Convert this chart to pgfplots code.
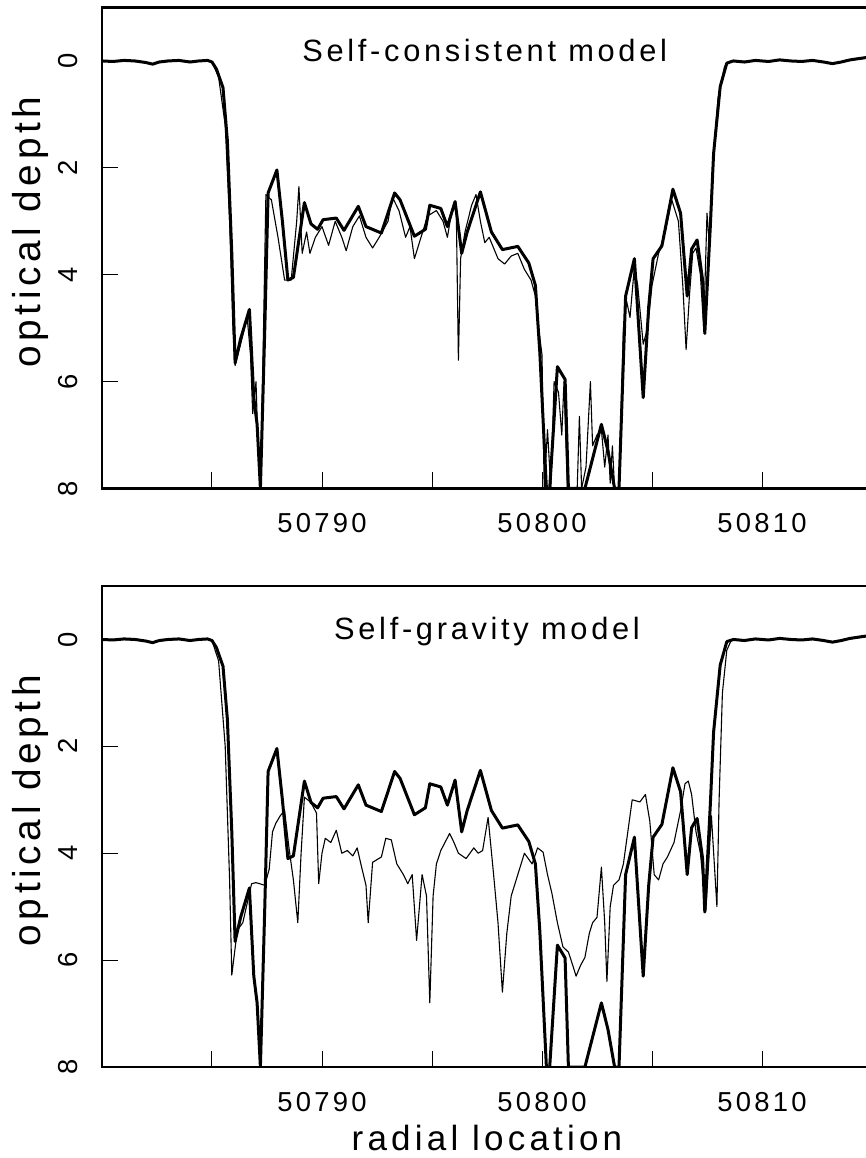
\documentclass[border=0pt]{standalone}
\usepackage{pgfplots}
\pgfplotsset{compat=1.18}
\usepackage{pgfplotstable}
\usepackage{fontspec}
\setmainfont{Liberation Sans}[LetterSpace=12]
\usetikzlibrary{calc}

\pgfplotstableread{
x y
50780.0 0.00
50780.5 0.01
50781.0 -0.01
50781.5 0.00
50782.0 0.03
50782.3 0.06
50782.6 0.02
50783.0 0.00
50783.5 -0.01
50784.0 0.02
50784.4 0.00
50784.8 -0.01
50785.0 0.02
50785.2 0.15
50785.5 0.5
50785.7 1.5
50785.9 3.6
50786.05 5.65
50786.3 5.2
50786.7 4.65
50786.9 6.3
50787.05 6.8
50787.2 8.0
50787.4 5.0
50787.55 2.47
50787.95 2.04
50788.2 3.0
50788.45 4.1
50788.7 4.05
50789.2 2.65
50789.5 3.05
50789.8 3.15
50790.05 2.97
50790.65 2.94
50791.0 3.17
50791.65 2.72
50792.0 3.1
50792.7 3.22
50793.3 2.47
50793.55 2.6
50794.2 3.28
50794.7 3.15
50794.9 2.7
50795.4 2.76
50795.7 3.1
50796.05 2.63
50796.35 3.6
50796.6 3.2
50797.2 2.45
50797.7 3.2
50798.2 3.53
50798.9 3.47
50799.4 3.78
50799.7 4.2
50799.9 5.45
50800.2 8.0
50800.35 8.0
50800.7 5.72
50801.05 5.96
50801.2 8.0
50801.95 8.0
50802.7 6.8
50803.0 7.3
50803.3 8.0
50803.5 8.0
50803.8 4.4
50804.2 3.7
50804.6 6.3
50804.85 4.6
50805.05 3.7
50805.45 3.46
50805.95 2.4
50806.3 2.85
50806.6 4.4
50806.8 3.52
50807.05 3.35
50807.3 4.1
50807.4 5.1
50807.65 3.1
50807.8 1.73
50808.1 0.48
50808.4 0.04
50808.7 0.00
50809.2 0.02
50809.7 -0.01
50810.3 0.01
50810.8 -0.02
50811.3 0.00
50811.8 0.01
50812.3 -0.01
50812.8 0.02
50813.2 0.05
50813.6 0.02
50814.0 -0.02
50814.5 -0.05
50815.0 -0.08
}\thick

\pgfplotstableread{
x y
50780.0 0.00
50780.5 0.00
50781.0 0.00
50781.5 0.01
50782.0 0.03
50782.3 0.05
50782.6 0.03
50783.0 0.01
50783.5 0.00
50784.0 0.01
50784.4 0.00
50784.8 0.00
50785.0 0.02
50785.3 0.3
50785.6 1.2
50785.8 3.0
50785.95 5.0
50786.05 5.7
50786.3 5.3
50786.6 4.8
50786.75 5.5
50786.85 6.6
50787.0 6.0
50787.1 7.3
50787.2 8.0
50787.3 6.0
50787.45 2.5
50787.7 2.6
50788.0 3.3
50788.3 4.1
50788.6 4.1
50788.85 3.0
50788.95 2.35
50789.1 3.6
50789.3 3.2
50789.45 3.6
50789.7 3.3
50790.0 3.1
50790.3 3.45
50790.6 3.0
50790.9 3.3
50791.1 3.55
50791.4 3.1
50791.7 2.9
50792.0 3.3
50792.3 3.5
50792.6 3.3
50793.0 3.0
50793.2 2.55
50793.5 2.8
50793.8 3.3
50794.0 3.1
50794.2 3.7
50794.5 3.3
50794.8 2.9
50795.2 2.8
50795.5 3.0
50795.7 3.3
50795.9 2.8
50796.1 2.7
50796.2 5.6
50796.3 3.7
50796.5 3.2
50796.8 2.7
50797.0 2.5
50797.2 3.0
50797.4 3.4
50797.6 3.3
50797.8 3.5
50798.0 3.7
50798.3 3.8
50798.6 3.65
50798.9 3.6
50799.2 3.9
50799.5 4.1
50799.7 4.4
50799.85 5.0
50800.0 5.5
50800.1 8.0
50800.25 6.9
50800.4 8.0
50800.55 6.0
50800.75 6.2
50800.9 7.0
50801.0 6.0
50801.15 8.0
50801.6 8.0
50801.7 6.65
50801.8 8.0
50802.0 7.6
50802.2 6.0
50802.3 7.2
50802.5 7.0
50802.7 6.9
50802.85 7.6
50803.0 7.0
50803.1 7.9
50803.2 7.2
50803.3 8.0
50803.5 8.0
50803.7 5.0
50803.85 4.5
50804.0 4.8
50804.2 3.85
50804.35 4.2
50804.6 5.3
50804.8 5.0
50805.0 4.2
50805.3 3.6
50805.6 3.2
50805.9 2.6
50806.2 3.0
50806.4 4.2
50806.55 5.4
50806.7 4.4
50806.85 3.6
50807.0 3.5
50807.2 4.0
50807.35 5.0
50807.5 2.85
50807.6 3.4
50807.75 2.0
50808.0 0.7
50808.3 0.1
50808.6 0.00
50809.2 0.01
50809.7 -0.01
50810.3 0.01
50810.8 -0.01
50811.3 0.00
50811.8 0.01
50812.3 0.00
50812.8 0.02
50813.2 0.04
50813.6 0.02
50814.0 -0.01
50814.5 -0.04
50815.0 -0.07
}\thinA

\pgfplotstableread{
x y
50780.0 0.00
50780.5 0.00
50781.0 0.00
50781.5 0.01
50782.0 0.03
50782.3 0.05
50782.6 0.03
50783.0 0.01
50783.5 0.00
50784.0 0.01
50784.4 0.00
50784.8 0.00
50785.0 0.02
50785.3 0.4
50785.6 2.0
50785.8 4.5
50785.9 6.28
50786.15 5.44
50786.4 5.3
50786.8 4.57
50787.0 4.55
50787.4 4.6
50787.6 4.3
50787.75 3.6
50787.9 3.44
50788.1 3.3
50788.3 3.2
50788.5 3.9
50788.7 4.5
50788.9 5.3
50789.05 4.0
50789.2 2.95
50789.5 3.05
50789.75 3.25
50789.85 4.57
50790.0 4.0
50790.15 3.72
50790.4 3.8
50790.65 3.57
50790.9 4.0
50791.15 3.95
50791.4 4.05
50791.6 3.9
50791.8 4.26
50792.0 4.6
50792.1 5.3
50792.3 4.17
50792.7 4.07
50792.9 3.72
50793.15 3.75
50793.4 4.2
50793.7 4.4
50793.9 4.57
50794.1 4.4
50794.3 5.63
50794.55 4.4
50794.75 4.8
50794.9 6.8
50795.05 4.8
50795.2 4.2
50795.4 3.95
50795.8 3.63
50796.0 3.8
50796.2 4.0
50796.55 4.1
50796.9 3.9
50797.1 4.0
50797.3 3.95
50797.55 3.33
50797.8 4.4
50798.0 5.3
50798.2 6.6
50798.4 5.5
50798.6 4.8
50798.9 4.4
50799.2 4.0
50799.55 4.2
50799.8 3.9
50800.05 3.98
50800.25 4.4
50800.45 4.75
50800.7 5.3
50800.95 5.75
50801.2 5.85
50801.4 6.1
50801.55 6.3
50801.75 6.1
50801.95 5.95
50802.15 5.5
50802.3 5.3
50802.5 5.2
50802.7 4.26
50802.85 5.3
50802.95 6.4
50803.1 5.0
50803.25 4.6
50803.5 4.5
50803.7 4.2
50803.9 3.6
50804.1 3.0
50804.45 3.04
50804.7 2.9
50804.9 3.4
50805.1 4.4
50805.3 4.5
50805.5 4.2
50805.7 4.07
50806.0 3.8
50806.3 3.2
50806.5 2.7
50806.65 2.65
50806.8 2.9
50807.0 3.6
50807.2 4.0
50807.45 5.07
50807.7 3.3
50807.95 5.0
50808.05 3.0
50808.2 1.0
50808.4 0.2
50808.6 0.02
50809.2 0.01
50809.7 -0.01
50810.3 0.01
50810.8 -0.01
50811.3 0.00
50811.8 0.01
50812.3 0.00
50812.8 0.02
50813.2 0.04
50813.6 0.02
50814.0 -0.01
50814.5 -0.04
50815.0 -0.07
}\thinB

\pgfplotsset{
  panel/.style={
    width=385pt, height=240.5pt, scale only axis,
    xmin=50780, xmax=50815, ymin=-1, ymax=8,
    y dir=reverse,
    scaled x ticks=false, scaled y ticks=false,
    axis line style={line width=1.1pt},
    tick style={line width=0.5pt, black},
    major tick length=8pt,
    tick align=inside,
    xtick pos=left, ytick pos=left,
    xtick={50785,50790,50795,50800,50805,50810},
    xticklabels={,50790,,50800,,50810},
    ytick={0,2,4,6,8},
    yticklabels={0,2,4,6,8},
    ticklabel style={font=\fontsize{13.7}{16}\selectfont},
    xticklabel style={anchor=base, inner sep=0pt},
    xticklabel shift=22.25pt,
    yticklabel style={rotate=90, anchor=base, inner sep=0pt},
    yticklabel shift=12pt,
    ylabel={optical depth},
    ylabel style={at={(axis description cs:-0.0805,0.533)}, anchor=base, font=\fontsize{19.4}{22}\selectfont},
    clip=true,
  },
  thickline/.style={black, line width=1.5pt, line join=round},
  thinline/.style={black, line width=0.55pt, line join=round},
}

\begin{document}
\begin{tikzpicture}
\begin{axis}[panel, name=top]
  \addplot[thinline] table[x=x,y=y] {\thinA};
  \addplot[thickline] table[x=x,y=y] {\thick};
  \node[anchor=base, font=\fontsize{15.4}{18}\selectfont] at (axis description cs:0.497,0.887) {Self-consistent model};
  \coordinate (TL) at (rel axis cs:0,1);
\end{axis}
\begin{axis}[panel, at={(0,-289.25pt)},
  xlabel={radial location},
  xlabel style={at={(axis description cs:0.5,0)}, anchor=base, yshift=-41.5pt, font=\fontsize{17.5}{21}\selectfont}]
  \addplot[thinline] table[x=x,y=y] {\thinB};
  \addplot[thickline] table[x=x,y=y] {\thick};
  \node[anchor=base, font=\fontsize{15.4}{18}\selectfont] at (axis description cs:0.50,0.888) {Self-gravity model};
  \coordinate (BL) at (rel axis cs:0,0);
\end{axis}
\pgfresetboundingbox
\path[use as bounding box] ($(TL)+(-51pt,3.75pt)$) rectangle ($(BL)+(381.5pt,-45.5pt)$);
\end{tikzpicture}
\end{document}
